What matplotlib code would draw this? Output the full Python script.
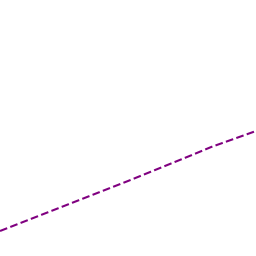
import matplotlib
matplotlib.use('Agg')
from matplotlib import pyplot as plt

# values
x_vals: list[float] = [0, 1, 2, 3, 3.3, 4]
y_vals: list[float] = [25, 50, 75, 101, 109, 125]

fig = plt.figure(figsize=(2.56, 2.56), dpi=100)
ax = fig.add_axes([0, 0, 1, 1])
ax.plot(x_vals, y_vals, color='#800080', linestyle='--', linewidth=1.5)
ax.set_xlim(0, 4)
ax.set_ylim(0, 256)
ax.axis('off')
fig.savefig('out.png', dpi=100)
